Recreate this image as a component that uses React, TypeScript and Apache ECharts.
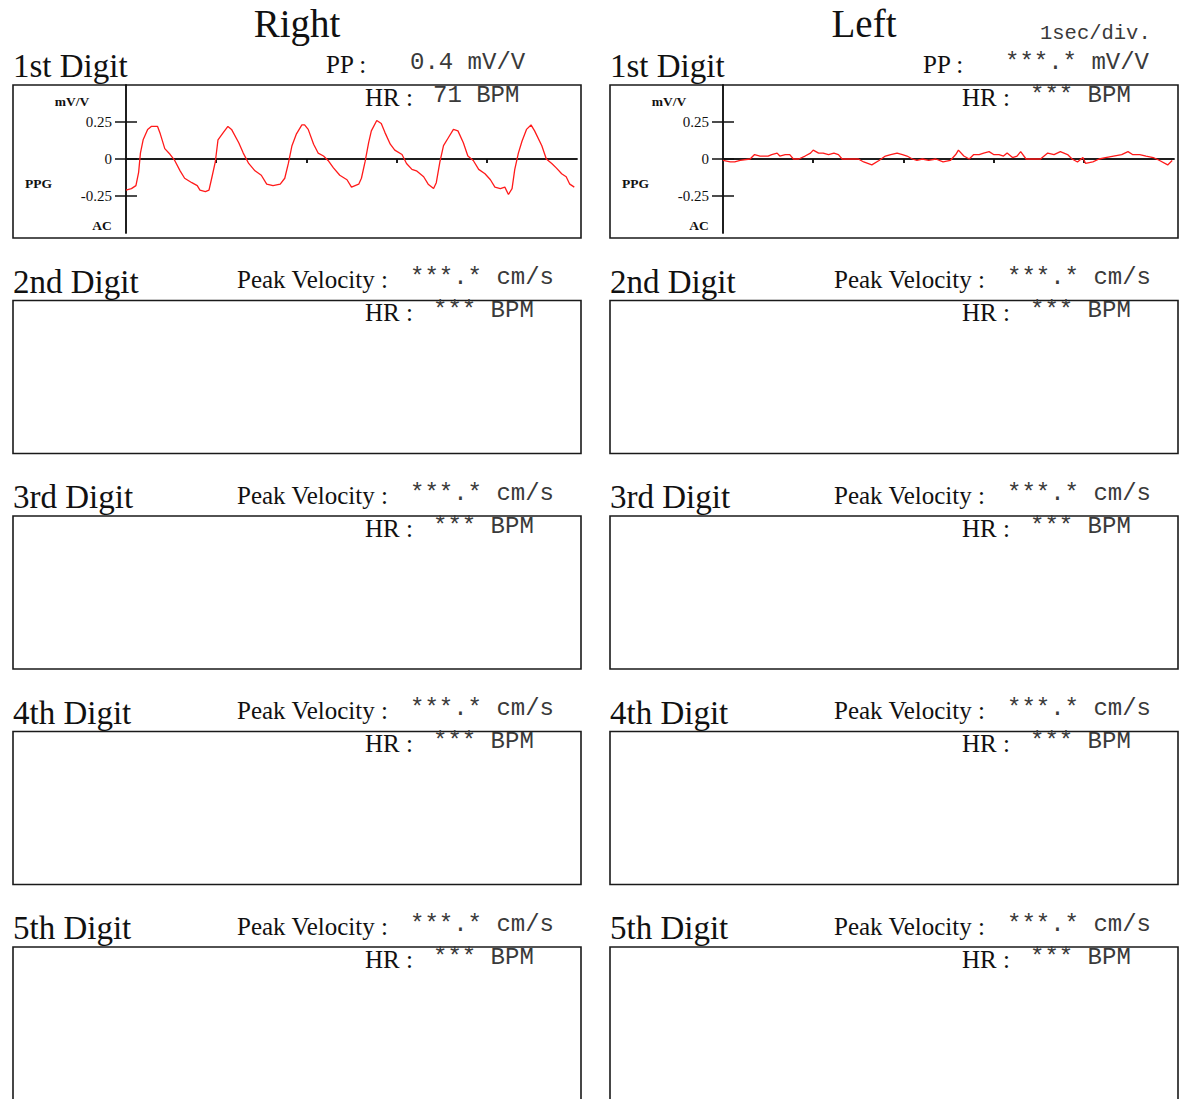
import React, { useEffect, useRef } from 'react';
import * as echarts from 'echarts';

// ---- data ----
const sideTitles = ['Right', 'Left'];
const digitLabels = ['1st Digit', '2nd Digit', '3rd Digit', '4th Digit', '5th Digit'];
const timeScaleLabel = '1sec/div.';
const ppLabel = 'PP :';
const hrLabel = 'HR :';
const peakLabel = 'Peak Velocity :';
const ppValues = ['0.4 mV/V', '***.* mV/V'];
const firstHrValues = ['71 BPM', '*** BPM'];
const peakValue = '***.* cm/s';
const emptyHrValue = '*** BPM';
const yTickValues = [-0.25, 0, 0.25];
const xTickValues = [1, 2, 3, 4];
const yUnitLabel = 'mV/V';
const yNameLabel = 'PPG';
const yModeLabel = 'AC';

const rightTimes = [
  0.0, 0.06, 0.11, 0.14, 0.16, 0.19, 0.24, 0.28, 0.35, 0.38, 0.43, 0.49, 0.54, 0.6, 0.65, 0.73, 0.79, 0.82, 0.88, 0.92,
  0.95, 0.99, 1.02, 1.08, 1.13, 1.17, 1.25, 1.3, 1.36, 1.43, 1.5, 1.56, 1.63, 1.71, 1.76, 1.8, 1.84, 1.89, 1.95, 1.98,
  2.02, 2.08, 2.13, 2.19, 2.24, 2.3, 2.37, 2.45, 2.5, 2.58, 2.61, 2.65, 2.69, 2.72, 2.78, 2.83, 2.87, 2.93, 2.98, 3.06,
  3.11, 3.17, 3.22, 3.3, 3.35, 3.41, 3.44, 3.48, 3.52, 3.57, 3.63, 3.68, 3.74, 3.79, 3.85, 3.91, 3.98, 4.04, 4.09, 4.15,
  4.2, 4.24, 4.28, 4.31, 4.35, 4.39, 4.44, 4.49, 4.53, 4.61, 4.66, 4.72, 4.77, 4.83, 4.88, 4.92, 4.97,
];
const rightValues = [
  -0.21, -0.2, -0.18, -0.09, 0.04, 0.13, 0.2, 0.22, 0.22, 0.17, 0.07, 0.03, -0.01, -0.08, -0.13, -0.16, -0.18, -0.21, -0.22, -0.21,
  -0.13, -0.02, 0.13, 0.18, 0.22, 0.2, 0.11, 0.04, -0.03, -0.08, -0.11, -0.17, -0.18, -0.17, -0.13, -0.03, 0.09, 0.17, 0.23, 0.23,
  0.2, 0.1, 0.04, 0.02, -0.01, -0.06, -0.11, -0.14, -0.19, -0.17, -0.13, -0.02, 0.11, 0.19, 0.26, 0.24, 0.18, 0.1, 0.06, 0.03,
  -0.03, -0.07, -0.08, -0.12, -0.17, -0.2, -0.16, -0.02, 0.09, 0.14, 0.2, 0.19, 0.11, 0.02, -0.01, -0.07, -0.1, -0.14, -0.19, -0.2,
  -0.19, -0.24, -0.2, -0.07, 0.04, 0.12, 0.2, 0.23, 0.19, 0.09, 0.0, -0.03, -0.06, -0.1, -0.12, -0.17, -0.19,
];

const leftTimes = [
  0.0, 0.08, 0.13, 0.19, 0.3, 0.35, 0.41, 0.5, 0.54, 0.6, 0.63, 0.69, 0.74, 0.78, 0.84, 0.91, 0.97, 1.0, 1.06, 1.11,
  1.17, 1.23, 1.28, 1.32, 1.39, 1.5, 1.56, 1.65, 1.73, 1.8, 1.86, 1.93, 1.99, 2.04, 2.1, 2.15, 2.21, 2.28, 2.36, 2.44,
  2.52, 2.58, 2.61, 2.67, 2.73, 2.78, 2.84, 2.89, 2.95, 3.0, 3.06, 3.11, 3.15, 3.21, 3.26, 3.3, 3.36, 3.43, 3.52, 3.6,
  3.67, 3.74, 3.82, 3.87, 3.93, 3.99, 4.02, 4.1, 4.17, 4.24, 4.33, 4.42, 4.49, 4.54, 4.62, 4.69, 4.77, 4.84, 4.93, 4.98,
];
const leftValues = [
  -0.01, -0.02, -0.02, -0.01, 0.0, 0.03, 0.02, 0.02, 0.03, 0.04, 0.02, 0.03, 0.03, 0.0, 0.0, 0.02, 0.04, 0.06, 0.04, 0.04,
  0.03, 0.04, 0.03, 0.0, 0.0, 0.0, -0.02, -0.04, -0.01, 0.02, 0.03, 0.04, 0.03, 0.02, 0.0, -0.01, 0.0, -0.01, 0.0, -0.02,
  -0.01, 0.03, 0.06, 0.02, 0.0, 0.03, 0.03, 0.04, 0.05, 0.03, 0.03, 0.02, 0.04, 0.01, 0.02, 0.05, 0.0, 0.0, 0.0, 0.04,
  0.03, 0.05, 0.03, 0.0, -0.02, 0.01, -0.03, -0.02, 0.0, 0.01, 0.02, 0.03, 0.05, 0.03, 0.03, 0.02, 0.01, -0.01, -0.04, -0.01,
];

// ---- layout / style ----
const W = 1179;
const H = 1099;
const SERIF = '"Liberation Serif", "Times New Roman", serif';
const MONO = '"Liberation Mono", "Courier New", monospace';
const COL_X = [13, 610];
const BOX_W = 568;
const BOX_H = 153;
const ROW_TOP = [85, 300.5, 516, 731.5, 947];
const GRID_LEFT = [126, 723];
const GRID_W = 451;
const GRID_H = 148;
const MONO_FILL = '#3a3a3a';

const textEl = (text: string, x: number, y: number, size: number, family: string, opts: any = {}) => ({
  type: 'text',
  x,
  y,
  silent: true,
  style: {
    text,
    fontSize: size,
    fontFamily: family,
    fontWeight: opts.weight || 'normal',
    fill: opts.fill || '#111',
    textAlign: opts.align || 'left',
    align: opts.align || 'left',
    textVerticalAlign: 'middle',
    verticalAlign: 'middle',
  },
});

export default function App() {
  const ref = useRef<HTMLDivElement>(null);
  useEffect(() => {
    if (!ref.current) return;
    const chart = echarts.init(ref.current, undefined, { renderer: 'svg' });

    const graphic: any[] = [];
    graphic.push(textEl(sideTitles[0], 297, 23, 39, SERIF, { align: 'center' }));
    graphic.push(textEl(sideTitles[1], 864, 23, 39, SERIF, { align: 'center' }));
    graphic.push(textEl(timeScaleLabel, 1040, 33, 20.5, MONO, { fill: MONO_FILL }));

    for (let side = 0; side < 2; side++) {
      const bx = COL_X[side];
      const dx = bx - COL_X[0];
      for (let r = 0; r < digitLabels.length; r++) {
        const top = ROW_TOP[r];
        graphic.push({
          type: 'rect',
          silent: true,
          shape: { x: bx, y: top, width: BOX_W, height: BOX_H },
          style: { fill: 'none', stroke: '#1a1a1a', lineWidth: 1.6 },
        });
        graphic.push(textEl(digitLabels[r], bx, top - 19, 33, SERIF));
        if (r === 0) {
          graphic.push(textEl(ppLabel, 326 + dx, top - 21, 25, SERIF));
          graphic.push(textEl(ppValues[side], side === 0 ? 410 : 1005, top - 23, 24, MONO, { fill: MONO_FILL }));
          graphic.push(textEl(hrLabel, 365 + dx, top + 12, 25, SERIF));
          graphic.push(textEl(firstHrValues[side], side === 0 ? 433 : 1030, top + 10, 24, MONO, { fill: MONO_FILL }));
        } else {
          graphic.push(textEl(peakLabel, 237 + dx, top - 21, 25, SERIF));
          graphic.push(textEl(peakValue, 410 + dx, top - 23, 24, MONO, { fill: MONO_FILL }));
          graphic.push(textEl(hrLabel, 365 + dx, top + 12, 25, SERIF));
          graphic.push(textEl(emptyHrValue, 433 + dx, top + 10, 24, MONO, { fill: MONO_FILL }));
        }
      }
      const gl = GRID_LEFT[side];
      graphic.push(textEl(yUnitLabel, gl - 54, 101, 13.5, SERIF, { align: 'center', weight: 'bold' }));
      graphic.push(textEl(yNameLabel, gl - 101, 183, 13.5, SERIF, { weight: 'bold' }));
      graphic.push(textEl(yModeLabel, gl - 24, 225, 13.5, SERIF, { align: 'center', weight: 'bold' }));
    }

    const grids = GRID_LEFT.map((l) => ({ left: l, top: ROW_TOP[0], width: GRID_W, height: GRID_H, containLabel: false }));

    const makeX = (gridIndex: number, inside: boolean) => ({
      type: 'value',
      gridIndex,
      min: 0,
      max: 5,
      interval: 1,
      axisLine: { show: true, onZero: true, lineStyle: { color: '#111', width: 1.5 } },
      axisTick: { show: true, inside, length: 4, customValues: xTickValues, lineStyle: { color: '#111', width: 1.5 } },
      axisLabel: { show: false },
      splitLine: { show: false },
    });
    const makeY = (gridIndex: number, inside: boolean) => ({
      type: 'value',
      gridIndex,
      position: 'left',
      offset: 0,
      min: -0.5,
      max: 0.5,
      interval: 0.25,
      axisLine: { show: true, onZero: false, lineStyle: { color: '#111', width: 1.5 } },
      axisTick: { show: true, inside, length: 11, customValues: yTickValues, lineStyle: { color: '#111', width: 1.5 } },
      axisLabel: inside
        ? { show: false }
        : {
            show: true,
            customValues: yTickValues,
            margin: 14,
            color: '#111',
            fontFamily: SERIF,
            fontSize: 15,
            formatter: (v: number) => String(v),
          },
      splitLine: { show: false },
    });

    const toPairs = (ts: number[], vs: number[]) => ts.map((t, i) => [t, vs[i]]);

    chart.setOption({
      animation: false,
      backgroundColor: '#ffffff',
      grid: grids,
      xAxis: [makeX(0, false), makeX(0, true), makeX(1, false), makeX(1, true)],
      yAxis: [makeY(0, false), makeY(0, true), makeY(1, false), makeY(1, true)],
      series: [
        {
          type: 'line',
          name: 'Right 1st Digit PPG',
          xAxisIndex: 0,
          yAxisIndex: 0,
          data: toPairs(rightTimes, rightValues),
          showSymbol: false,
          symbol: 'none',
          lineStyle: { color: '#ff1a1a', width: 1.3 },
          z: 1,
        },
        {
          type: 'line',
          name: 'Left 1st Digit PPG',
          xAxisIndex: 2,
          yAxisIndex: 2,
          data: toPairs(leftTimes, leftValues),
          showSymbol: false,
          symbol: 'none',
          lineStyle: { color: '#ff1a1a', width: 1.3 },
          z: 1,
        },
      ],
      graphic,
    });
    return () => chart.dispose();
  }, []);

  return <div ref={ref} style={{ position: 'absolute', left: 0, top: 0, width: W, height: H }} />;
}
